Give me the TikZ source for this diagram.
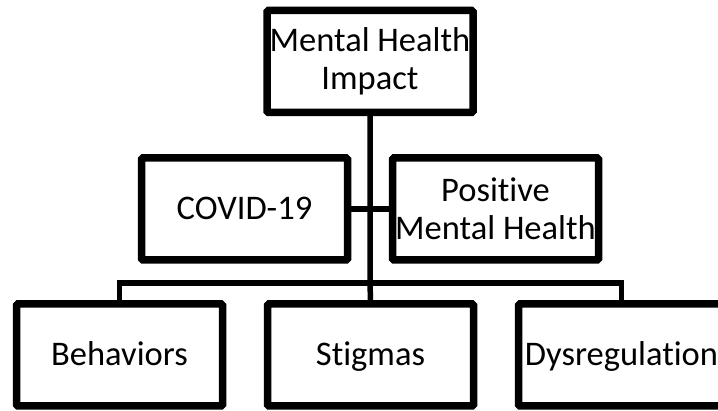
\documentclass[tikz,border=0pt]{standalone}
\usepackage{fontspec}
\setmainfont{Carlito}[Ligatures=NoCommon]
\usetikzlibrary{shadows}
\tikzset{
  box/.style={draw=black, fill=white, line width=7.5pt, rounded corners=1.5pt,
    minimum width=206pt, minimum height=102pt, inner sep=0pt, align=center,
    font=\fontsize{34.5}{37.5}\selectfont,
    drop shadow={opacity=0.12, shadow xshift=2pt, shadow yshift=-3pt}},
  oneline/.style={box, text height=22pt, text depth=0pt},
  conn/.style={draw=black, line width=5.5pt}
}
\begin{document}
\begin{tikzpicture}[x=1pt,y=-1pt]
\useasboundingbox (0,0) rectangle (718,411);
\clip (0,0) rectangle (718,411);
\coordinate (bus) at (370,283);
\node[box] (top) at (370,61.5) {Mental Health\\Impact};
\node[oneline] (covid) at (244.5,209) {COVID-19};
\node[box] (pos) at (495.5,209) {Positive\\Mental Health};
\node[oneline] (behav) at (119.5,355) {Behaviors};
\node[oneline] (stig) at (370.5,355) {Stigmas};
\node[oneline] (dysr) at (621.5,355) {Dysregulation};
\draw[conn] (top.south) -- (bus) -- (stig.north);
\draw[conn] (covid.east) -- (pos.west);
\draw[conn] (behav.north) |- (bus) -| (dysr.north);
\end{tikzpicture}
\end{document}
